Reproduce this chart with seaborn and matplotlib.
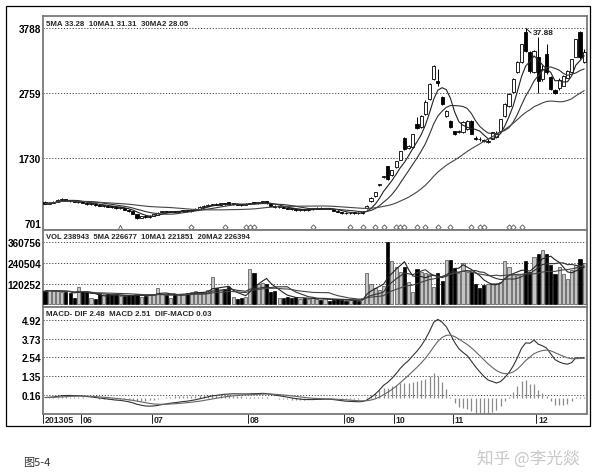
import numpy as np
import pandas as pd
import matplotlib
matplotlib.use("Agg")
import matplotlib.pyplot as plt
import matplotlib.transforms as mtransforms
from matplotlib.patches import Rectangle
import seaborn as sns

# ---------------- data ----------------
opens = [1020, 995, 1010, 1030, 1055, 1070, 1050, 1045, 1025, 1040,
         1010, 990, 995, 980, 965, 970, 950, 945, 930, 935,
         900, 880, 830, 780, 800, 785, 810, 825, 860, 880,
         870, 885, 870, 880, 890, 880, 905, 920, 950, 970,
         985, 990, 985, 1005, 1020, 995, 1000, 985, 980, 995,
         1025, 1005, 1025, 1040, 1005, 965, 945, 950, 935, 920,
         910, 895, 905, 895, 915, 920, 935, 920, 930, 915,
         890, 865, 850, 845, 855, 850, 845, 930, 1040, 1120,
         1290, 1420, 1590, 1450, 1580, 1700, 2040, 1880, 1900, 2260,
         2210, 2420, 2660, 2980, 2950, 2700, 2390, 2310, 2150, 2140,
         2140, 2180, 2310, 2040, 2030, 2010, 1980, 2030, 2050, 2150,
         2390, 2550, 2770, 3090, 3250, 3720, 3400, 3090, 3320, 2980,
         3370, 3010, 2800, 2830, 2870, 3000, 3090, 3330, 3720, 3250]
highs = [1035, 1025, 1040, 1075, 1085, 1080, 1065, 1060, 1050, 1045,
         1020, 1005, 1000, 990, 980, 975, 965, 955, 950, 940,
         910, 885, 835, 810, 815, 820, 840, 860, 890, 885,
         890, 890, 890, 895, 900, 910, 925, 955, 975, 990,
         1000, 1005, 1015, 1010, 1030, 1010, 1005, 995, 1005, 1015,
         1030, 1030, 1040, 1045, 1010, 975, 960, 955, 945, 930,
         915, 910, 915, 920, 930, 940, 940, 935, 935, 920,
         895, 875, 865, 860, 865, 870, 885, 975, 1100, 1190,
         1310, 1440, 1600, 1540, 1680, 1840, 2050, 1930, 2110, 2380,
         2400, 2640, 2910, 3200, 3140, 2710, 2480, 2320, 2160, 2170,
         2310, 2320, 2320, 2070, 2060, 2030, 2030, 2140, 2160, 2350,
         2600, 2750, 2990, 3260, 3540, 3788, 3420, 3440, 3650, 3200,
         3530, 3030, 2820, 2990, 3040, 3120, 3300, 3620, 3740, 3460]
lows = [990, 990, 1005, 1025, 1045, 1040, 1030, 1025, 1015, 1005,
        985, 975, 970, 955, 950, 940, 935, 920, 920, 900,
        870, 830, 760, 770, 770, 780, 800, 820, 855, 860,
        865, 865, 860, 870, 875, 875, 900, 915, 945, 960,
        975, 975, 980, 985, 990, 985, 975, 970, 975, 990,
        1000, 1000, 1015, 1000, 960, 935, 930, 925, 915, 900,
        890, 885, 890, 890, 905, 915, 915, 910, 910, 885,
        860, 840, 835, 835, 840, 835, 840, 920, 1030, 1110,
        1285, 1415, 1380, 1440, 1570, 1690, 1850, 1870, 1890, 2190,
        2200, 2410, 2650, 2970, 2870, 2570, 2380, 2200, 2090, 2120,
        2120, 2170, 2100, 2010, 2000, 1980, 1970, 2020, 2040, 2140,
        2380, 2540, 2760, 3080, 3240, 3410, 3080, 3080, 2750, 2950,
        3060, 2800, 2740, 2810, 2860, 2990, 3080, 3320, 3300, 3230]
closes = [1000, 1015, 1030, 1060, 1075, 1050, 1045, 1030, 1040, 1010,
          995, 1000, 980, 965, 970, 950, 945, 930, 940, 905,
          880, 840, 780, 800, 785, 810, 830, 855, 880, 870,
          885, 870, 880, 890, 880, 905, 920, 950, 970, 985,
          990, 985, 1005, 995, 995, 1000, 985, 980, 995, 1005,
          1005, 1025, 1030, 1005, 965, 945, 950, 935, 920, 910,
          895, 905, 895, 915, 920, 935, 920, 930, 915, 890,
          865, 850, 845, 855, 850, 845, 875, 965, 1090, 1180,
          1305, 1432, 1390, 1530, 1670, 1830, 1860, 1920, 2100, 2200,
          2390, 2620, 2900, 3180, 2920, 2580, 2470, 2210, 2100, 2150,
          2290, 2310, 2110, 2030, 2020, 1990, 2000, 2130, 2110, 2340,
          2580, 2740, 2980, 3250, 3530, 3420, 3100, 3420, 2950, 3130,
          3090, 2820, 2760, 2970, 3020, 3100, 3290, 3610, 3330, 3400]
volumes = [78000, 82000, 76000, 80000, 74000, 72000, 68000, 40000, 100000, 76000,
           70000, 36000, 34000, 58000, 55000, 60000, 52000, 56000, 50000, 48000,
           55000, 52000, 58000, 45000, 50000, 60000, 58000, 97000, 62000, 55000,
           35000, 58000, 60000, 62000, 66000, 70000, 80000, 65000, 70000, 82000,
           158000, 95000, 85000, 88000, 100000, 45000, 30000, 38000, 42000, 205000,
           182000, 120000, 125000, 120000, 70000, 80000, 40000, 35000, 45000, 38000,
           45000, 30000, 35000, 32000, 38000, 30000, 25000, 35000, 22000, 28000,
           30000, 24000, 20000, 28000, 25000, 22000, 40000, 182000, 120000, 95000,
           85000, 105000, 363000, 252000, 217000, 190000, 217000, 130000, 70000, 205000,
           188000, 180000, 176000, 100000, 180000, 138000, 260000, 255000, 210000, 185000,
           240000, 190000, 190000, 120000, 95000, 115000, 118000, 125000, 122000, 130000,
           250000, 215000, 175000, 172000, 178000, 250000, 190000, 275000, 293000, 313000,
           290000, 227000, 175000, 217000, 175000, 150000, 200000, 230000, 262000, 238943]

month_labels = ["201305", "06", "07", "08", "09", "10", "11", "12"]
month_start_idx = [0, 9, 26, 49, 72, 84, 98, 118]

price_ticks = [701, 1730, 2759, 3788]
vol_ticks = [120252, 240504, 360756]
macd_ticks = [0.16, 1.35, 2.54, 3.73, 4.92]
macd_tick_labels = ["0.16", "1.35", "2.54", "3.73", "4.92"]

diamond_idx = [35, 43, 48, 49, 50, 64, 73, 76, 79, 81, 84, 85, 86, 89, 91,
               94, 97, 102, 104, 105, 111, 112, 114]
triangle_idx = [18]

price_ma_windows = [5, 10, 30]
vol_ma_windows = [5, 10, 20]

price_header = "5MA 33.28  10MA1 31.31  30MA2 28.05"
vol_header = "VOL 238943  5MA 226677  10MA1 221851  20MA2 226394"
macd_header = "MACD- DIF 2.48  MACD 2.51  DIF-MACD 0.03"
peak_label = "37.88"
caption = "图5-4"
watermark = "知乎 @李光燚"

# ---------------- derived indicators ----------------
df = pd.DataFrame({"idx": np.arange(len(closes)), "open": opens, "high": highs,
                   "low": lows, "close": closes, "vol": volumes})
df["up"] = df["close"] >= df["open"]
for n in price_ma_windows:
    df[f"pma{n}"] = df["close"].rolling(n, min_periods=1).mean()
for n in vol_ma_windows:
    df[f"vma{n}"] = df["vol"].rolling(n, min_periods=1).mean()
cy = df["close"] / 100.0
df["dif"] = cy.ewm(span=12, adjust=False).mean() - cy.ewm(span=26, adjust=False).mean()
df["dea"] = df["dif"].ewm(span=9, adjust=False).mean()
df["hist"] = df["dif"] - df["dea"]

# ---------------- figure ----------------
sns.set_style("white")
NARROW = ["Liberation Sans Narrow", "Liberation Sans", "DejaVu Sans"]
CJK = ["Noto Sans CJK SC", "DejaVu Sans"]
plt.rcParams["font.family"] = NARROW

W, H = 600, 477
fig = plt.figure(figsize=(W / 100, H / 100), dpi=100)
fig.patch.set_facecolor("white")


def fax(x0, y0, x1, y1):
    return fig.add_axes([x0 / W, 1 - y1 / H, (x1 - x0) / W, (y1 - y0) / H])


ax_p = fax(43, 17, 587, 231)
ax_v = fax(43, 231, 587, 308)
ax_m = fax(43, 308, 587, 415)

XMIN, XMAX = -0.48, 129.67
GRID_LS = (0, (1.2, 1.8))

x = df["idx"].values
up = df["up"].values

# price candles
ax_p.vlines(x, df["low"], df["high"], color="black", lw=0.7, zorder=2)
body_bot = np.minimum(df["open"], df["close"])
body_h = np.maximum((df["close"] - df["open"]).abs(), 14)
ax_p.bar(x, body_h, bottom=body_bot, width=0.75,
         color=np.where(up, "white", "black"), edgecolor="black", lw=0.6, zorder=3)
for n, col in zip(price_ma_windows, ["#222222", "#333333", "#444444"]):
    sns.lineplot(data=df, x="idx", y=f"pma{n}", ax=ax_p, color=col, lw=0.8,
                 legend=False, zorder=4)
ax_p.set_ylim(582, 3978)
ax_p.hlines(price_ticks[1:], XMIN, XMAX, colors="#444444", lw=0.7,
            linestyles=[GRID_LS], zorder=1)
trans_p = mtransforms.blended_transform_factory(ax_p.transData, ax_p.transAxes)
ax_p.scatter(diamond_idx, [0.013] * len(diamond_idx), transform=trans_p, marker="D",
             s=7, facecolors="white", edgecolors="#555555", lw=0.6, zorder=5, clip_on=False)
ax_p.scatter(triangle_idx, [0.013] * len(triangle_idx), transform=trans_p, marker="^",
             s=10, facecolors="white", edgecolors="#555555", lw=0.6, zorder=5, clip_on=False)
peak_i = int(np.argmax(highs))
ax_p.plot([peak_i + 0.1, peak_i + 1.3], [highs[peak_i] - 10, highs[peak_i] - 80],
          color="black", lw=0.6, zorder=5)
ax_p.text(peak_i + 1.6, highs[peak_i] - 70, peak_label, fontsize=6, fontweight="bold",
          ha="left", va="center", color="#222222", family=NARROW)
ax_p.text(0.006, 0.965, price_header, transform=ax_p.transAxes, fontsize=5.7,
          fontweight="bold", ha="left", va="center", family=NARROW)

# volume
ax_v.bar(x, df["vol"], width=0.75, color=np.where(up, "#c4c4c4", "black"),
         edgecolor=np.where(up, "#4a4a4a", "black"), lw=0.5, zorder=3)
for n, col in zip(vol_ma_windows, ["#222222", "#333333", "#444444"]):
    sns.lineplot(data=df, x="idx", y=f"vma{n}", ax=ax_v, color=col, lw=0.8,
                 legend=False, zorder=4)
ax_v.set_ylim(-14665, 431147)
ax_v.hlines(vol_ticks, XMIN, XMAX, colors="#444444", lw=0.7,
            linestyles=[GRID_LS], zorder=1)
ax_v.text(0.006, 0.91, vol_header, transform=ax_v.transAxes, fontsize=5.5,
          fontweight="bold", ha="left", va="center", family=NARROW)

# MACD
ax_m.vlines(x, 0, df["hist"], color="#8a8a8a", lw=0.9, zorder=2)
sns.lineplot(data=df, x="idx", y="dif", ax=ax_m, color="#333333", lw=0.8,
             legend=False, zorder=4)
sns.lineplot(data=df, x="idx", y="dea", ax=ax_m, color="#666666", lw=0.8,
             legend=False, zorder=4)
ax_m.set_ylim(-1.046, 5.745)
ax_m.hlines(macd_ticks, XMIN, XMAX, colors="#444444", lw=0.7,
            linestyles=[GRID_LS], zorder=1)
ax_m.text(0.006, 0.935, macd_header, transform=ax_m.transAxes, fontsize=5.7,
          fontweight="bold", ha="left", va="center", family=NARROW)

# month ticks
trans_m = mtransforms.blended_transform_factory(ax_m.transData, ax_m.transAxes)
for lab, i0 in zip(month_labels, month_start_idx):
    xt = i0 - 0.5 if i0 > 0 else XMIN
    ax_m.plot([xt, xt], [0, -0.085], transform=trans_m, color="black", lw=0.6,
              clip_on=False)
    ax_m.text(xt + 0.45, -0.055, lab, transform=trans_m, fontsize=6.3,
              fontweight="bold", ha="left", va="center", family=NARROW)

# styling
for ax, ticks, labels in [(ax_p, price_ticks, [str(t) for t in price_ticks]),
                          (ax_v, vol_ticks, [str(t) for t in vol_ticks]),
                          (ax_m, macd_ticks, macd_tick_labels)]:
    ax.set_xlim(XMIN, XMAX)
    ax.set_xticks([])
    ax.set_xlabel("")
    ax.set_ylabel("")
    ax.set_yticks(ticks)
    ax.set_yticklabels(labels, fontsize=7.2, fontweight="bold", family=NARROW)
    ax.tick_params(axis="y", length=0, pad=1.5, colors="black")
    ax.set_facecolor("white")
    for s in ax.spines.values():
        s.set_color("#7a7a7a")
        s.set_linewidth(1.3)
        s.set_visible(True)

# outer frame
fig.add_artist(Rectangle((6 / W, 1 - 427 / H), 584 / W, 420 / H,
                         transform=fig.transFigure, fill=False, ec="black", lw=0.9))

fig.text(23 / W, 1 - 463 / H, caption, fontsize=8, color="#333333",
         ha="left", va="center", family=CJK)
fig.text(477 / W, 1 - 459 / H, watermark, fontsize=12, color="#c8c8c8",
         ha="left", va="center", family=CJK)

fig.savefig("out.png", dpi=100, facecolor="white")
